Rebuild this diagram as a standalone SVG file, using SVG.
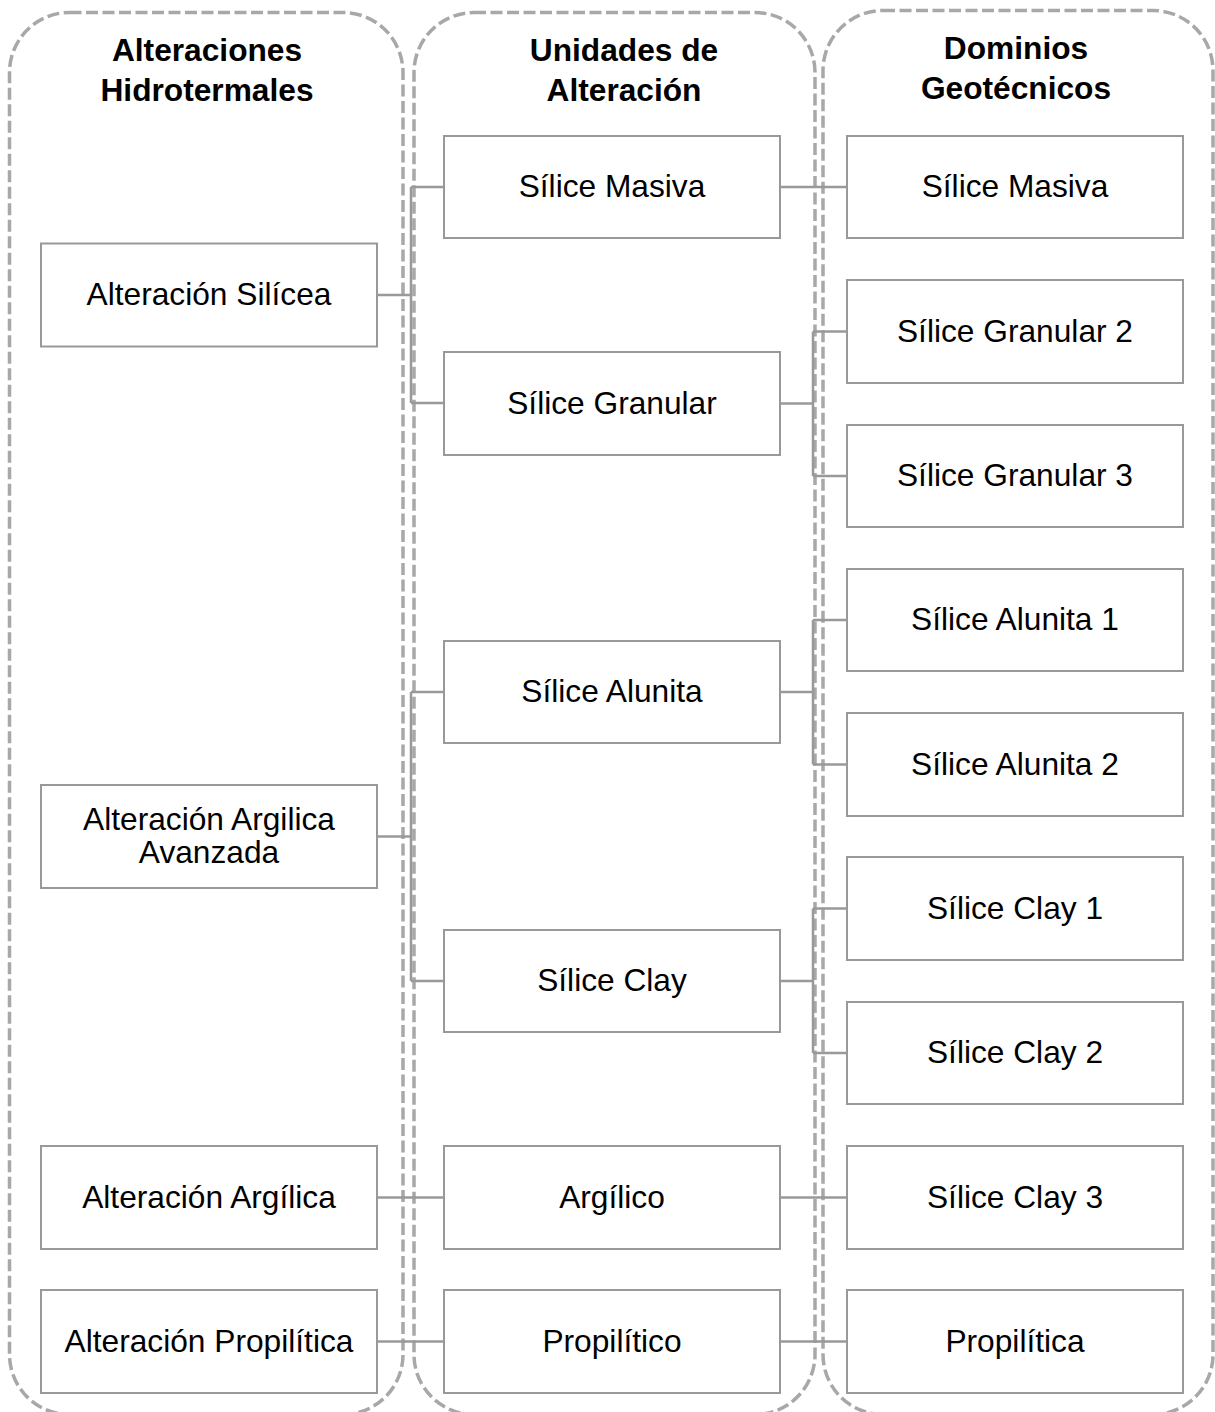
<svg xmlns="http://www.w3.org/2000/svg" width="1215" height="1412" viewBox="0 0 1215 1412">
<style>
.panel{fill:none;stroke:#a8a8a8;stroke-width:3.5;stroke-dasharray:12 4.5}
.node rect{fill:#ffffff;stroke:#999999;stroke-width:2}
.node text,.hdr{font-family:"Liberation Sans",Arial,sans-serif;font-size:31.7px;fill:#000000;text-anchor:middle}
.hdr{font-weight:bold}
.conn{fill:none;stroke:#999999;stroke-width:2.5}
</style>
<rect width="1215" height="1412" fill="#ffffff"/>
<g id="panels">
<rect class="panel" x="9.5" y="12.5" width="393.5" height="1402" rx="60" ry="60"/>
<rect class="panel" x="414" y="12.5" width="401" height="1402" rx="60" ry="60"/>
<rect class="panel" x="823" y="10.5" width="390" height="1404" rx="60" ry="60"/>
</g>
<g id="headers">
<text class="hdr" x="207" y="61">Alteraciones</text>
<text class="hdr" x="207" y="101">Hidrotermales</text>
<text class="hdr" x="624" y="61">Unidades de</text>
<text class="hdr" x="624" y="101">Alteración</text>
<text class="hdr" x="1016" y="59">Dominios</text>
<text class="hdr" x="1016" y="99">Geotécnicos</text>
</g>
<g id="connectors">
<path class="conn" d="M377 295H411M411 187V403M411 187H444M411 403H444"/>
<path class="conn" d="M377 836.5H411M411 692V981M411 692H444M411 981H444"/>
<path class="conn" d="M377 1197.5H444"/>
<path class="conn" d="M377 1341.5H444"/>
<path class="conn" d="M780 187H847"/>
<path class="conn" d="M780 403.5H813M813 331.5V476M813 331.5H847M813 476H847"/>
<path class="conn" d="M780 692H813M813 620V764.5M813 620H847M813 764.5H847"/>
<path class="conn" d="M780 981H813M813 908.5V1053M813 908.5H847M813 1053H847"/>
<path class="conn" d="M780 1197.5H847"/>
<path class="conn" d="M780 1341.5H847"/>
</g>
<g id="n-alt-silicea" class="node"><rect x="41" y="243.5" width="336" height="103"/><text x="209" y="305">Alteración Silícea</text></g>
<g id="n-alt-aa" class="node"><rect x="41" y="785" width="336" height="103"/><text x="209" y="830">Alteración Argilica</text><text x="209" y="863">Avanzada</text></g>
<g id="n-alt-argilica" class="node"><rect x="41" y="1146" width="336" height="103"/><text x="209" y="1207.5">Alteración Argílica</text></g>
<g id="n-alt-propilitica" class="node"><rect x="41" y="1290" width="336" height="103"/><text x="209" y="1351.5">Alteración Propilítica</text></g>
<g id="u-silice-masiva" class="node"><rect x="444" y="136" width="336" height="102"/><text x="612" y="197">Sílice Masiva</text></g>
<g id="u-silice-granular" class="node"><rect x="444" y="352" width="336" height="103"/><text x="612" y="413.5">Sílice Granular</text></g>
<g id="u-silice-alunita" class="node"><rect x="444" y="641" width="336" height="102"/><text x="612" y="702">Sílice Alunita</text></g>
<g id="u-silice-clay" class="node"><rect x="444" y="930" width="336" height="102"/><text x="612" y="991">Sílice Clay</text></g>
<g id="u-argilico" class="node"><rect x="444" y="1146" width="336" height="103"/><text x="612" y="1207.5">Argílico</text></g>
<g id="u-propilitico" class="node"><rect x="444" y="1290" width="336" height="103"/><text x="612" y="1351.5">Propilítico</text></g>
<g id="d-silice-masiva" class="node"><rect x="847" y="136" width="336" height="102"/><text x="1015" y="197">Sílice Masiva</text></g>
<g id="d-granular-2" class="node"><rect x="847" y="280" width="336" height="103"/><text x="1015" y="341.5">Sílice Granular 2</text></g>
<g id="d-granular-3" class="node"><rect x="847" y="425" width="336" height="102"/><text x="1015" y="486">Sílice Granular 3</text></g>
<g id="d-alunita-1" class="node"><rect x="847" y="569" width="336" height="102"/><text x="1015" y="630">Sílice Alunita 1</text></g>
<g id="d-alunita-2" class="node"><rect x="847" y="713" width="336" height="103"/><text x="1015" y="774.5">Sílice Alunita 2</text></g>
<g id="d-clay-1" class="node"><rect x="847" y="857" width="336" height="103"/><text x="1015" y="918.5">Sílice Clay 1</text></g>
<g id="d-clay-2" class="node"><rect x="847" y="1002" width="336" height="102"/><text x="1015" y="1063">Sílice Clay 2</text></g>
<g id="d-clay-3" class="node"><rect x="847" y="1146" width="336" height="103"/><text x="1015" y="1207.5">Sílice Clay 3</text></g>
<g id="d-propilitica" class="node"><rect x="847" y="1290" width="336" height="103"/><text x="1015" y="1351.5">Propilítica</text></g>
</svg>
